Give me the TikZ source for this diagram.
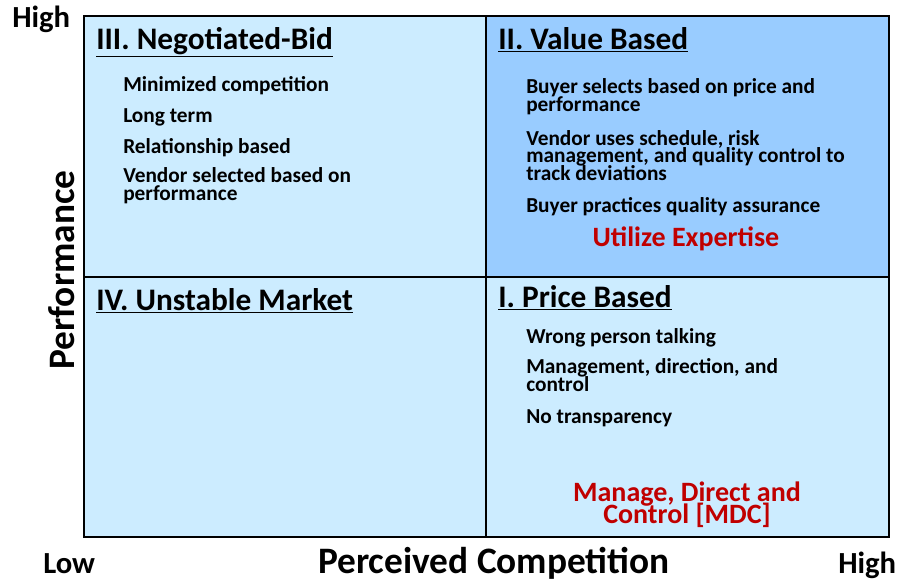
\documentclass[tikz,border=0pt]{standalone}
\usepackage{fontspec}
\setmainfont{Carlito}
\usetikzlibrary{positioning}
\definecolor{paleblue}{HTML}{CCECFF}
\definecolor{valueblue}{HTML}{99CCFF}
\definecolor{mdcred}{HTML}{C00000}
\setlength{\lineskiplimit}{-20pt}

\begin{document}
\begin{tikzpicture}[
  x=0.75pt,
  y=-0.75pt,
  heading/.style={
    anchor=base west,
    inner sep=0pt,
    font=\fontsize{23.5}{24}\selectfont\bfseries
  },
  item/.style={
    anchor=base west,
    inner sep=0pt,
    align=left,
    font=\fontsize{16}{13}\selectfont\bfseries
  },
  motto/.style={
    anchor=base,
    inner sep=0pt,
    align=center,
    text=mdcred,
    font=\fontsize{21}{16.5}\selectfont\bfseries
  },
  axislabel/.style={
    inner sep=0pt,
    font=\fontsize{28}{28}\selectfont\bfseries
  },
  endlabel/.style={
    anchor=base west,
    inner sep=0pt,
    font=\fontsize{23}{23}\selectfont\bfseries
  }
]
\useasboundingbox (0,0) rectangle (901,582);

% Quadrant fills and grid
\fill[paleblue] (84,16) rectangle (889,537);
\fill[valueblue] (486,16) rectangle (889,277);
\draw[line width=0.9pt] (84,16) rectangle (889,537);
\draw[line width=0.9pt] (486,16) -- (486,537);
\draw[line width=0.9pt] (84,277) -- (889,277);

% III. Negotiated-Bid (multi-line items: base = last line)
\node[heading] (negbid) at (96,49) {\underline{III. Negotiated-Bid}};
\node[item] (mincomp) at (123,91) {Minimized competition};
\node[item] (longterm) at (123,122) {Long term};
\node[item] (relation) at (123,153) {Relationship based};
\node[item] (vendsel) at (123,200) {Vendor selected based on\\performance};

% II. Value Based
\node[heading] (valbased) at (498,49) {\underline{II. Value Based}};
\node[item] (buyersel) at (526,111) {Buyer selects based on price and\\performance};
\node[item] (venduses) at (526,180) {Vendor uses schedule, risk\\management, and quality control to\\track deviations};
\node[item] (buyerqa) at (526,212) {Buyer practices quality assurance};
\node[motto] (expertise) at (686,246) {Utilize Expertise};

% IV. Unstable Market
\node[heading] (unstable) at (96,310) {\underline{IV. Unstable Market}};

% I. Price Based
\node[heading] (pricebased) at (498,307) {\underline{I. Price Based}};
\node[item] (wrongperson) at (526,343) {Wrong person talking};
\node[item] (mgmt) at (526,391) {Management, direction, and\\control};
\node[item] (notransp) at (526,423) {No transparency};
\node[motto] (mdc) at (687,523) {Manage, Direct and\\Control [MDC]};

% Axes
\node[endlabel] (perfhigh) at (12,27) {High};
\node[axislabel, rotate=90] (perf) at (62,270) {Performance};
\node[endlabel] (complow) at (43,573) {Low};
\node[axislabel, anchor=base] (comp) at (494,573) {Perceived Competition};
\node[endlabel] (comphigh) at (838,573) {High};
\end{tikzpicture}
\end{document}
